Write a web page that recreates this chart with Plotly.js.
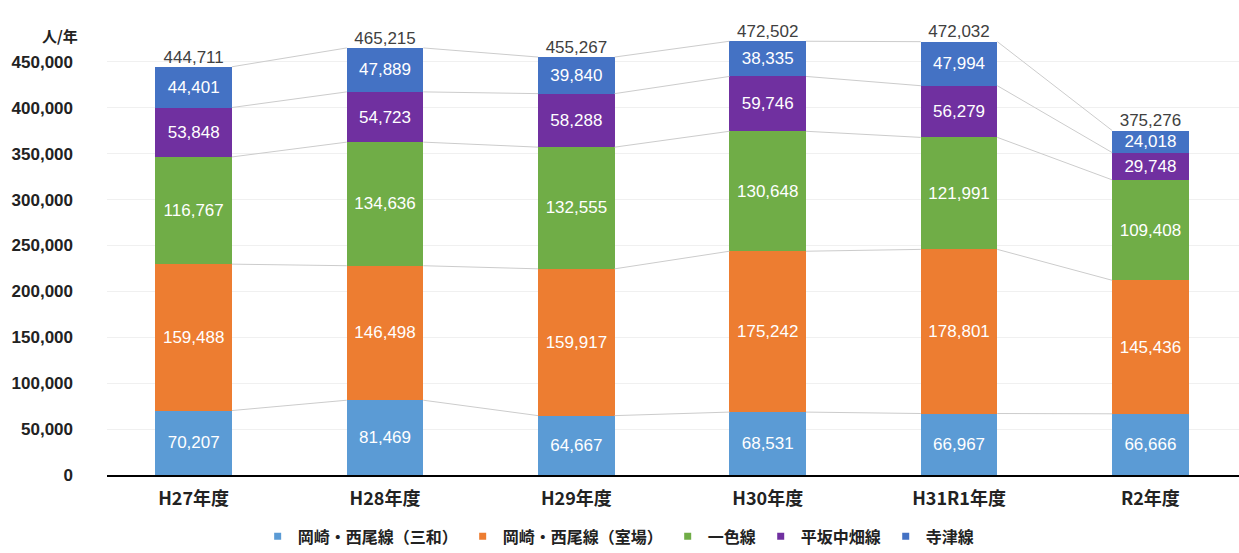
<!DOCTYPE html>
<html>
<head>
<meta charset="utf-8">
<script src="https://cdn.plot.ly/plotly-3.0.1.min.js"></script>
<style>html,body{margin:0;padding:0;background:#fff;}#chart{width:1239px;height:553px;}</style>
</head>
<body>
<div id="chart"></div>
<script>
const categories = ["H27年度", "H28年度", "H29年度", "H30年度", "H31R1年度", "R2年度"];
const seriesNames = ["岡崎・西尾線（三和）", "岡崎・西尾線（室場）", "一色線", "平坂中畑線", "寺津線"];
const sanwa = [70207, 81469, 64667, 68531, 66967, 66666];
const muroba = [159488, 146498, 159917, 175242, 178801, 145436];
const isshiki = [116767, 134636, 132555, 130648, 121991, 109408];
const hirasaka = [53848, 54723, 58288, 59746, 56279, 29748];
const teratsu = [44401, 47889, 39840, 38335, 47994, 24018];
const totals = [444711, 465215, 455267, 472502, 472032, 375276];
const yTickVals = [0, 50000, 100000, 150000, 200000, 250000, 300000, 350000, 400000, 450000];
const yTickText = ["0", "50,000", "100,000", "150,000", "200,000", "250,000", "300,000", "350,000", "400,000", "450,000"];
const colors = ["#5B9BD5", "#ED7D31", "#70AD47", "#7030A0", "#4472C4"];

const series = [sanwa, muroba, isshiki, hirasaka, teratsu];
const xs = categories.map((c, i) => i);
const barWidth = 0.4;
const numFont = "Liberation Sans, Arial, Noto Sans CJK JP, sans-serif";
const jpFont = "Noto Sans CJK JP, Liberation Sans, sans-serif";

const traces = [];
// series connector lines between stacked segments
const cum = xs.map(() => 0);
series.forEach((s) => {
  s.forEach((v, i) => { cum[i] += v; });
  const lx = [], ly = [];
  for (let i = 0; i < xs.length - 1; i++) {
    lx.push(xs[i] + barWidth / 2, xs[i + 1] - barWidth / 2, null);
    ly.push(cum[i], cum[i + 1], null);
  }
  traces.push({
    type: "scatter", mode: "lines", x: lx, y: ly,
    line: {color: "#cccccc", width: 1}, showlegend: false, hoverinfo: "skip"
  });
});

series.forEach((s, k) => {
  traces.push({
    type: "bar", name: seriesNames[k], x: xs, y: s, width: barWidth,
    marker: {color: colors[k], line: {width: 0}},
    texttemplate: "%{y:,}", textposition: "inside", insidetextanchor: "middle",
    textangle: 0, constraintext: "none",
    insidetextfont: {color: "#ffffff", size: 17, family: numFont},
    showlegend: false, legendgroup: "g" + k
  });
});

// legend entries with small square markers
series.forEach((s, k) => {
  traces.push({
    type: "scatter", mode: "markers", name: seriesNames[k], x: [null], y: [null],
    marker: {color: colors[k], symbol: "square", size: 7},
    legendgroup: "g" + k, hoverinfo: "skip"
  });
});

traces.push({
  type: "scatter", mode: "text", x: xs, y: totals,
  text: totals.map(v => v.toLocaleString("en-US")),
  textposition: "top center",
  textfont: {color: "#404040", size: 17, family: numFont},
  showlegend: false, hoverinfo: "skip"
});

const layout = {
  width: 1239, height: 553,
  margin: {l: 107, r: 0, t: 16, b: 78},
  paper_bgcolor: "#ffffff", plot_bgcolor: "#ffffff",
  barmode: "stack",
  xaxis: {
    range: [-0.453, 5.463], tickvals: xs, ticktext: categories,
    showgrid: false, zeroline: false, showline: true, linecolor: "#000000", linewidth: 2,
    ticks: "", ticklabelstandoff: 6,
    tickfont: {size: 18, color: "#222222", family: jpFont, weight: "bold"},
    fixedrange: true
  },
  yaxis: {
    range: [0, 500000], tickvals: yTickVals, ticktext: yTickText,
    showgrid: true, gridcolor: "#f0f0f0", gridwidth: 1, zeroline: false, showline: false,
    ticks: "", ticklabelstandoff: 33,
    tickfont: {size: 17, color: "#222222", family: numFont, weight: "bold"},
    fixedrange: true
  },
  legend: {
    orientation: "h", x: 0.452, xanchor: "center",
    yref: "container", y: 0.03, yanchor: "middle",
    font: {size: 16, color: "#222222", family: jpFont, weight: "bold"},
    itemwidth: 30, traceorder: "normal"
  },
  annotations: [{
    xref: "paper", yref: "paper", x: -0.024, y: 0.9586, xanchor: "right", yanchor: "middle",
    text: "人/年", showarrow: false,
    font: {size: 15, color: "#222222", family: jpFont, weight: "bold"}
  }],
  showlegend: true
};

Plotly.newPlot("chart", traces, layout, {displayModeBar: false, staticPlot: true});
</script>
</body>
</html>
